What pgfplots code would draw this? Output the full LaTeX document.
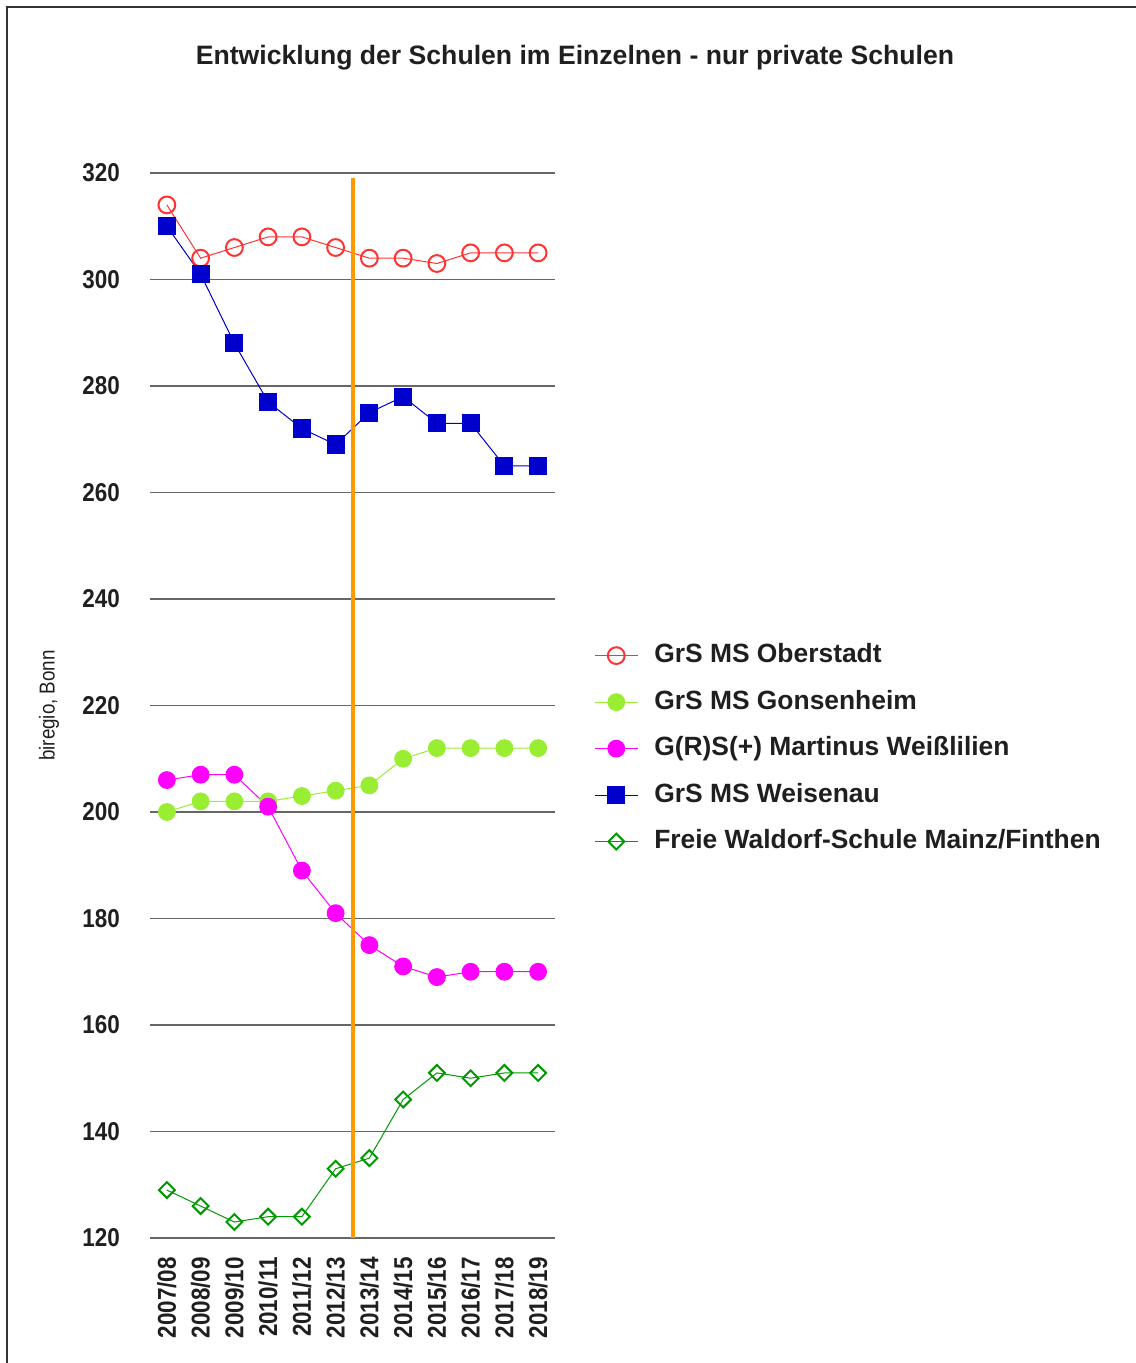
\documentclass[border=0pt]{standalone}
\usepackage{pgfplots}
\pgfplotsset{compat=1.18}
\usepackage{fontspec}
\setmainfont{Liberation Sans}
\newfontfamily\narrowfont[FakeStretch=0.87]{Liberation Sans}
\definecolor{cred}{HTML}{FF3333}
\definecolor{clgreen}{HTML}{99EE33}
\definecolor{cmag}{HTML}{FF00FF}
\definecolor{cblue}{HTML}{0000CC}
\definecolor{cdgreen}{HTML}{009900}
\definecolor{corange}{HTML}{FF9900}
\begin{document}
\begin{tikzpicture}
\useasboundingbox (0,0) rectangle (567.5pt,681.5pt);
\draw[line width=1pt, black!80] (3.5pt,-5pt) -- (3.5pt,678pt) -- (575pt,678pt);
\node[font=\fontsize{13.3}{15}\selectfont\bfseries, text=black!88] at (287.5pt,652.5pt) {Entwicklung der Schulen im Einzelnen - nur private Schulen};
\begin{axis}[
  at={(75pt,62.5pt)}, anchor=south west,
  scale only axis, width=202.5pt, height=532.5pt,
  xmin=-0.5, xmax=11.5, ymin=120, ymax=320,
  xtick={0,...,11},
  xticklabels={2007/08,2008/09,2009/10,2010/11,2011/12,2012/13,2013/14,2014/15,2015/16,2016/17,2017/18,2018/19},
  ytick={120,140,...,320},
  axis line style={draw=none},
  major tick style={draw=none},
  ymajorgrids, major grid style={black!60, line width=0.6pt},
  /pgf/number format/assume math mode=true,
  ticklabel style={font=\narrowfont\fontsize{12.9}{14}\selectfont\bfseries, text=black!88},
  yticklabel style={anchor=east, xshift=-11.5pt},
  xticklabel style={rotate=90, anchor=east, xshift=-6pt},
  every axis y label/.style={at={(axis description cs:-0.249,0.5)}, rotate=90, anchor=center},
  ylabel={biregio, Bonn},
  ylabel style={font=\narrowfont\fontsize{10.8}{12}\selectfont, text=black!88},
  clip=false,
  legend style={at={(rel axis cs:1.096,0.4595)}, anchor=west, draw=none, fill=none,
    inner sep=0pt, row sep=11.25pt,
    nodes={inner sep=0pt, text height=9.5pt, text depth=2.5pt, anchor=west},
    /tikz/every odd column/.append style={column sep=8pt},
    font=\fontsize{13.2}{15}\selectfont\bfseries, text=black!88},
  legend cell align=left,
  legend image code/.code={\draw[mark repeat=2,mark phase=2] plot coordinates {(0pt,0pt) (10.75pt,0pt) (21.5pt,0pt)};},
]
\addplot[cred, line width=0.5pt, mark=o, mark size=4.2pt, mark options={line width=1pt, fill=white}] coordinates {
(0,314) (1,304) (2,306) (3,308) (4,308) (5,306) (6,304) (7,304) (8,303) (9,305) (10,305) (11,305)};
\addlegendentry{GrS MS Oberstadt}
\addplot[clgreen, line width=0.5pt, mark=*, mark size=4.2pt, mark options={draw=clgreen, fill=clgreen}] coordinates {
(0,200) (1,202) (2,202) (3,202) (4,203) (5,204) (6,205) (7,210) (8,212) (9,212) (10,212) (11,212)};
\addlegendentry{GrS MS Gonsenheim}
\addplot[cmag, line width=0.5pt, mark=*, mark size=4.2pt, mark options={draw=cmag, fill=cmag}] coordinates {
(0,206) (1,207) (2,207) (3,201) (4,189) (5,181) (6,175) (7,171) (8,169) (9,170) (10,170) (11,170)};
\addlegendentry{G(R)S(+) Martinus Weißlilien}
\addplot[cblue, line width=0.5pt, mark=square*, mark size=4.3pt, mark options={draw=cblue, fill=cblue}] coordinates {
(0,310) (1,301) (2,288) (3,277) (4,272) (5,269) (6,275) (7,278) (8,273) (9,273) (10,265) (11,265)};
\addlegendentry{GrS MS Weisenau}
\addplot[cdgreen, line width=0.5pt, mark=square, mark size=2.8pt, mark options={rotate=45, line width=1pt, fill=white}] coordinates {
(0,129) (1,126) (2,123) (3,124) (4,124) (5,133) (6,135) (7,146) (8,151) (9,150) (10,151) (11,151)};
\addlegendentry{Freie Waldorf-Schule Mainz/Finthen}
\addplot[corange, line width=2pt, forget plot] coordinates {(5.5,120) (5.5,319)};
\end{axis}
\end{tikzpicture}
\end{document}
